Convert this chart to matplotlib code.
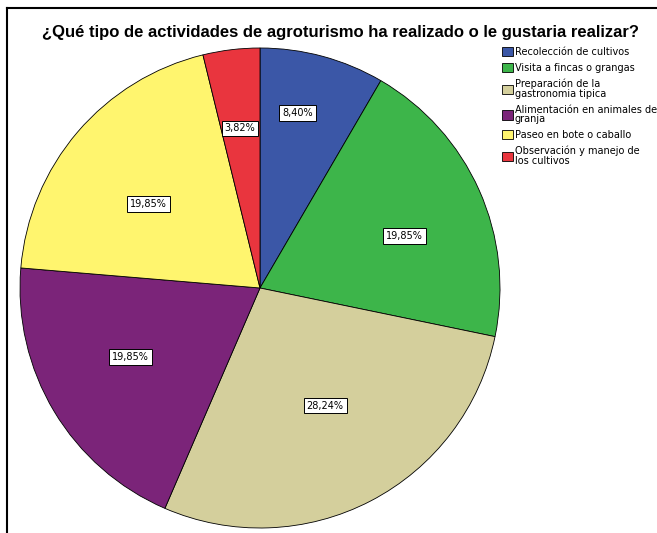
import numpy as np
import matplotlib
matplotlib.use("Agg")
import matplotlib.pyplot as plt
from matplotlib.lines import Line2D

plt.rcParams['font.family'] = ['Liberation Sans', 'DejaVu Sans']

# data
title = "¿Qué tipo de actividades de agroturismo ha realizado o le gustaria realizar?"
labels = ["Recolección de cultivos",
          "Visita a fincas o grangas",
          "Preparación de la\ngastronomia tipica",
          "Alimentación en animales de\ngranja",
          "Paseo en bote o caballo",
          "Observación y manejo de\nlos cultivos"]
values = [8.40, 19.85, 28.24, 19.85, 19.85, 3.82]
colors = ["#3B57A7", "#3DB54A", "#D4CF9C", "#7B2479", "#FFF56E", "#E9353E"]
# where the % box sits: radius and fraction across the slice
label_r = [0.745, 0.64, 0.56, 0.61, 0.58, 0.67]
label_frac = [0.40, 0.56, 0.485, 0.54, 0.45, 0.48]

W, H = 657, 533
fig = plt.figure(figsize=(W / 100, H / 100), dpi=100)

cx, cy, r = 260, 288, 240
ax = fig.add_axes([(cx - r) / W, (H - cy - r) / H, 2 * r / W, 2 * r / H])
wedges, _ = ax.pie(values, colors=colors, startangle=90, counterclock=False,
                   wedgeprops=dict(edgecolor='black', linewidth=0.6))
ax.set_xlim(-1, 1)
ax.set_ylim(-1, 1)
ax.set_aspect('equal')
ax.axis('off')

# percent labels in boxes
for w, v, d, f in zip(wedges, values, label_r, label_frac):
    ang = np.deg2rad(w.theta2 - f * (w.theta2 - w.theta1))
    ax.text(d * np.cos(ang), d * np.sin(ang), f"{v:.2f}".replace('.', ',') + "%",
            ha='center', va='center', fontsize=7, family='DejaVu Sans',
            bbox=dict(boxstyle='square,pad=0.3', facecolor='white', edgecolor='black', linewidth=0.7))

fig.text(341 / W, 1 - 32 / H, title, ha='center', va='center', fontsize=12, fontweight='bold')

leg = fig.legend(wedges, labels, loc='upper left', bbox_to_anchor=(502 / W, 1 - 47 / H),
                 frameon=False, prop=dict(family='DejaVu Sans', size=7),
                 handlelength=1.1, handleheight=1.1,
                 handletextpad=0.2, labelspacing=0.6, borderaxespad=0, borderpad=0)
for t in leg.get_texts():
    t.set_linespacing(0.95)

# frame lines
fig.add_artist(Line2D([7 / W, 1], [1 - 8 / H, 1 - 8 / H], color='black', linewidth=1.5))
fig.add_artist(Line2D([7 / W, 7 / W], [0, 1 - 8 / H], color='black', linewidth=1.5))

fig.savefig("out.png", dpi=100)
